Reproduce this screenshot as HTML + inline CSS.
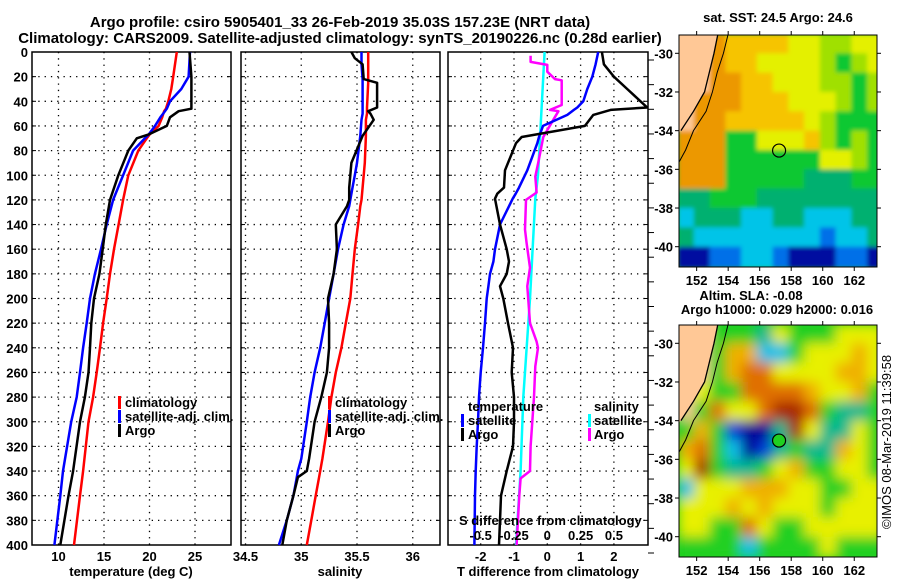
<!DOCTYPE html>
<html><head><meta charset="utf-8"><style>
body{margin:0;background:#fff;}
svg{display:block;font-family:"Liberation Sans",Arial,sans-serif;font-weight:bold;}
</style></head><body>
<svg id="s" width="900" height="580" viewBox="0 0 900 580" xmlns="http://www.w3.org/2000/svg">
<defs>
<filter id="bl1" x="-5%" y="-5%" width="110%" height="110%"><feGaussianBlur stdDeviation="2"/></filter>
<filter id="bl2" x="-5%" y="-5%" width="110%" height="110%"><feGaussianBlur stdDeviation="6"/></filter>
<clipPath id="cm1"><rect x="679" y="35" width="198" height="232"/></clipPath>
<clipPath id="cm2"><rect x="679" y="325" width="198" height="232"/></clipPath>
</defs>
<text x="340" y="27" font-size="15" text-anchor="middle">Argo profile: csiro 5905401_33 26-Feb-2019 35.03S 157.23E (NRT data)</text>
<text x="340" y="43" font-size="15" text-anchor="middle">Climatology: CARS2009. Satellite-adjusted climatology: synTS_20190226.nc (0.28d earlier)</text>
<g id="g"></g>
</svg>
<script>
// ---- data ----
const depths = [0,20,30,40,46,48,53,60,67,70,80,100,120,140,160,180,200,220,240,260,280,300,340,360,400];
const tClim  = [23.0,22.6,22.4,22.07,21.8,21.6,21.4,21.0,20.0,19.7,18.77,17.67,17.1,16.6,16.1,15.66,15.3,14.9,14.56,14.2,13.8,13.3,12.7,12.36,11.7];
const tSat   = [24.45,24.3,23.5,22.25,21.9,21.7,21.2,20.6,19.9,19.5,18.2,17.1,16.0,15.3,14.67,14.0,13.46,13.1,12.7,12.36,12.0,11.4,10.5,10.2,9.55];
const tArgo  = [24.4,24.6,24.6,24.6,24.6,23.2,22.25,21.9,19.87,18.6,17.67,16.57,15.66,15.2,14.86,14.5,13.9,13.6,13.46,13.3,12.9,12.36,11.6,11.1,10.2];
const sDepths = [0,5,10,22,25,45,48,50,55,68,90,100,110,120,125,140,160,180,200,220,240,260,280,300,330,340,345,360,380,400];
const sClim = [35.6,35.6,35.6,35.6,35.6,35.59,35.59,35.59,35.58,35.58,35.57,35.56,35.55,35.54,35.53,35.51,35.48,35.46,35.44,35.40,35.36,35.31,35.27,35.24,35.19,35.17,35.16,35.13,35.09,35.05];
const sSat  = [35.54,35.54,35.54,35.55,35.55,35.55,35.55,35.55,35.54,35.53,35.50,35.48,35.46,35.44,35.43,35.38,35.33,35.29,35.25,35.21,35.17,35.12,35.08,35.05,35.0,34.97,34.96,34.93,34.87,34.80];
const sArgo = [35.45,35.48,35.55,35.56,35.68,35.68,35.60,35.62,35.65,35.55,35.45,35.44,35.43,35.43,35.41,35.31,35.32,35.29,35.24,35.25,35.25,35.23,35.18,35.12,35.07,35.05,34.97,34.93,34.87,34.83];
const dDepths = [0,10,20,30,40,45,47,51,60,69,74,96,110,115,119,140,160,170,180,190,200,220,240,260,280,300,320,340,360,400];
const dtSat  = [1.53,1.45,1.35,1.2,1.08,0.9,0.8,0.6,-0.13,-0.25,-0.3,-0.6,-0.85,-0.95,-1.04,-1.42,-1.57,-1.62,-1.72,-1.77,-1.82,-1.87,-1.93,-2.0,-2.05,-2.08,-2.12,-2.15,-2.17,-2.19];
const dtArgo = [1.64,1.7,2.0,2.4,2.8,3.0,1.9,1.38,1.13,-0.77,-0.94,-1.27,-1.3,-1.5,-1.57,-1.42,-1.22,-1.15,-1.22,-1.42,-1.32,-1.18,-1.03,-1.07,-1.0,-1.0,-1.03,-1.22,-1.39,-1.45];
const mDepths = [3,8,10.5,16,22,23,43,47,48,55,69,90,101,114,120,144,155,175,190,220,235,240,255,280,320,340,346,360,400];
const dsArgo = [-0.125,-0.125,0,0,0.058,0.108,0.108,0.02,0.083,0.045,-0.03,-0.068,-0.09,-0.08,-0.16,-0.167,-0.155,-0.13,-0.15,-0.13,-0.08,-0.07,-0.09,-0.1,-0.125,-0.13,-0.2,-0.21,-0.23];
const cDepths = [0,100,119,200,280,340,400];
const dsSat = [-0.02,-0.07,-0.09,-0.13,-0.18,-0.2,-0.235];
const depthTicks = [0,20,40,60,80,100,120,140,160,180,200,220,240,260,280,300,320,340,360,380,400];
const tTicks = [10,15,20,25];
const sTicks = [34.5,35,35.5,36];
const dtTicks = [-2,-1,0,1,2];
const dsTicks = [-0.5,-0.25,0,0.25,0.5];
const dsTickLabels = ["-0.5","-0.25","0","0.25","0.5"];
const sstGrid = [
"NNOYYYYyyLLyy",
"NNOYYyyyyLGLy",
"NNOOYYyyyLLGL",
"NOOOYYYyyyLGL",
"NOOYYYYYyLGGG",
"OOOGGyyyYLGLG",
"OOOGGGGGGyyLG",
"OOOGGGGGTTTGG",
"TTGGGTTTTTTTT",
"CTTTCCTTCCCTT",
"TCCCCCCCCBCCT",
"DDBBCCBDDDBBD"];
const slaGrid = [
"NNGGGTyGGGyyy",
"NNGooCCGyyyoy",
"NNGoOOyyyyooy",
"NyGGOOOOoyyoG",
"NGOyyORROGTTG",
"GoGBDDTRyTTyG",
"oOGCDBTGTToyG",
"yRGTTGyoGGyyG",
"CyyyoooyyGGyy",
"yyyoyoyyyGyyy",
"yyGGOyGGyyyyy",
"GGGGCGGGGyGGG"];
// ---- drawing ----
const NS='http://www.w3.org/2000/svg';
const G=document.getElementById('g');
function mk(tag,attrs,parent){const e=document.createElementNS(NS,tag);for(const k in attrs)e.setAttribute(k,attrs[k]);(parent||G).appendChild(e);return e;}
const Y0=52, YS=(545-52)/400;
const yD=d=>Y0+d*YS;
const xT=t=>58.5+(t-10)*9.1;
const xS=s=>245.5+(s-34.5)*111.5;
const xDT=v=>547.3+v*33.3;
const xDS=v=>547.3+v*133.3;
function panel(name,x0,x1,ticks,xf,labels,showY){
  const g=mk('g',{});
  
  
  depthTicks.forEach(d=>{ if(d>0&&d<400){const l=mk('line',{x1:x0,x2:x1,y1:yD(d),y2:yD(d),stroke:'#000','stroke-width':1.3,'stroke-dasharray':'1.3 5'},g);}
    mk('line',{x1:x0,x2:x0+4,y1:yD(d),y2:yD(d),stroke:'#000'},g);mk('line',{x1:x1-4,x2:x1,y1:yD(d),y2:yD(d),stroke:'#000'},g);
    if(showY){const t=mk('text',{x:28,y:yD(d)+5,'font-size':13,'text-anchor':'end'},g);t.textContent=d;}
  });
  ticks.forEach((v,i)=>{const x=xf(v);
    const l=mk('line',{x1:x,x2:x,y1:Y0,y2:545,stroke:'#000','stroke-width':1.3,'stroke-dasharray':'1.3 5'},g);
    
    if(labels){const t=mk('text',{x:x,y:561,'font-size':13,'text-anchor':'middle'},g);t.textContent=labels[i];}
  });
  mk('rect',{x:x0,y:Y0,width:x1-x0,height:545-Y0,fill:'none',stroke:'#000','stroke-width':1.5},g);
  return g;
}
function line(name,xs,ds,xf,color,w){
  const p=xs.map((v,i)=>(i?'L':'M')+xf(v).toFixed(1)+','+yD(ds[i]).toFixed(1)).join('');
  const e=mk('path',{d:p,fill:'none',stroke:color,'stroke-width':w||2.5,'stroke-linejoin':'round'});
  
  
}
function txt(name,x,y,s,size,anchor){const t=mk('text',{x:x,y:y,'font-size':size||13,'text-anchor':anchor||'start'});t.textContent=s;return t;}
function legBar(name,x,y,c){const r=mk('rect',{x:x,y:y-11,width:3,height:13,fill:c});}
// panel 1
panel('temperature-panel',32,231,tTicks,xT,tTicks.map(String),true);
line('temperature-climatology-line',tClim,depths,xT,'#f00');
line('temperature-satellite-line',tSat,depths,xT,'#00f');
line('temperature-argo-line',tArgo,depths,xT,'#000');
txt('temperature-x-axis-title',131,576,'temperature (deg C)',13,'middle');
legBar('legend-swatch-climatology',118,407,'#f00');txt('legend-climatology',125,407,'climatology');
legBar('legend-swatch-satellite',118,421,'#00f');txt('legend-satellite',125,421,'satellite-adj. clim.');
legBar('legend-swatch-argo',118,435,'#000');txt('legend-argo',125,435,'Argo');
// panel 2
panel('salinity-panel',241,440,sTicks,xS,sTicks.map(String),false);
line('salinity-climatology-line',sClim,sDepths,xS,'#f00');
line('salinity-satellite-line',sSat,sDepths,xS,'#00f');
line('salinity-argo-line',sArgo,sDepths,xS,'#000');
txt('salinity-x-axis-title',340,576,'salinity',13,'middle');
legBar('legend2-swatch-climatology',328,407,'#f00');txt('legend2-climatology',335,407,'climatology');
legBar('legend2-swatch-satellite',328,421,'#00f');txt('legend2-satellite',335,421,'satellite-adj. clim.');
legBar('legend2-swatch-argo',328,435,'#000');txt('legend2-argo',335,435,'Argo');
// panel 3
panel('difference-panel',448,648,dtTicks,xDT,dtTicks.map(String),false);
depthTicks.forEach(d=>mk('line',{x1:648,x2:654,y1:yD(d)+8,y2:yD(d)+8,stroke:'#000'}));
line('salinity-diff-satellite-line',dsSat,cDepths,xDS,'#0ff');
line('salinity-diff-argo-line',dsArgo,mDepths,xDS,'#f0f');
line('temperature-diff-satellite-line',dtSat,dDepths,xDT,'#00f');
line('temperature-diff-argo-line',dtArgo,dDepths,xDT,'#000');
dsTicks.forEach((v,i)=>{txt('s-diff-tick-label',xDS(v),540,dsTickLabels[i],13,'middle');});
txt('s-diff-axis-title',459,525,'S difference from climatology');
txt('t-diff-x-axis-title',548,576,'T difference from climatology',13,'middle');
txt('legend3-temperature-heading',468,411,'temperature');
legBar('legend3-swatch-t-satellite',461,425,'#00f');txt('legend3-t-satellite',468,425,'satellite');
legBar('legend3-swatch-t-argo',461,439,'#000');txt('legend3-t-argo',468,439,'Argo');
txt('legend3-salinity-heading',594,411,'salinity');
legBar('legend3-swatch-s-satellite',588,425,'#0ff');txt('legend3-s-satellite',594,425,'satellite');
legBar('legend3-swatch-s-argo',588,439,'#f0f');txt('legend3-s-argo',594,439,'Argo');
// maps
const cols={N:'#ffc896',O:'#ec9800',Y:'#f6c400',y:'#e4f000',L:'#a0e000',G:'#10c830',T:'#00b070',C:'#00c4e8',B:'#0070e8',D:'#0010a0'};
const slaCols={N:'#ffc896',G:'#20d020',y:'#e8f000',o:'#f0b000',O:'#e07000',R:'#a82800',T:'#00b890',C:'#10c0e8',B:'#0040d8',D:'#000098'};
const mX=lon=>679+(lon-150.88)*15.76;
function drawMap(name,grid,palette,top,lat30,clip,filt,circleFill){
  const g=mk('g',{'clip-path':'url(#'+clip+')'});
  
  
  const mY=lat=>lat30+(-30-lat)*19.34;
  mk('rect',{x:679,y:top,width:198,height:232,fill:palette.G},g);
  const inner=mk('g',{filter:'url(#'+filt+')'},g);
  grid.forEach((row,j)=>{[...row].forEach((c,i)=>{
    const x=mX(150.88+i)-1,y=mY(-29.05-j)-1;
    mk('rect',{x:x,y:y,width:17.8,height:21.4,fill:palette[c]},inner);
  });});
  const coast=[[153.35,-29],[153.1,-30],[152.8,-31],[152.5,-32],[151.8,-33],[151.0,-34]];
  const shelf=[[154.0,-29],[153.7,-30],[153.3,-31],[153.0,-32],[152.6,-33],[151.8,-34],[151.3,-35],[150.9,-35.6]];
  const land='M679,'+(top-2)+' '+coast.map(p=>'L'+mX(p[0])+','+mY(p[1])).join(' ')+' L679,'+mY(-34.1)+'Z';
  mk('path',{d:land,fill:'#ffc896'},g);
  mk('path',{d:'M'+coast.map(p=>mX(p[0])+','+mY(p[1])).join(' L'),fill:'none',stroke:'#000','stroke-width':1.3},g);
  mk('path',{d:'M'+shelf.map(p=>mX(p[0])+','+mY(p[1])).join(' L'),fill:'none',stroke:'#000','stroke-width':1},g);
  const c=mk('circle',{cx:mX(157.23),cy:mY(-35.03),r:6.5,fill:circleFill,stroke:'#000','stroke-width':1.2},g);
  
  
  mk('rect',{x:679,y:top,width:198,height:232,fill:'none',stroke:'#000','stroke-width':1});
  [152,154,156,158,160,162].forEach(l=>{const x=mX(l);mk('line',{x1:x,x2:x,y1:top-4,y2:top,stroke:'#000'});mk('line',{x1:x,x2:x,y1:top+232,y2:top+236,stroke:'#000'});
    txt('longitude-tick-label',x,top+250,String(l),13,'middle');});
  [-30,-32,-34,-36,-38,-40].forEach(l=>{const y=mY(l);mk('line',{x1:675,x2:679,y1:y,y2:y,stroke:'#000'});mk('line',{x1:877,x2:881,y1:y,y2:y,stroke:'#000'});
    txt('latitude-tick-label',673,y+5,String(l),13,'end');});
}
drawMap('sst-map',sstGrid,cols,35,53.3,'cm1','bl1','none');
drawMap('sla-map',slaGrid,slaCols,325,343.3,'cm2','bl2','#20d020');
txt('sst-map-title',778,22,'sat. SST: 24.5 Argo: 24.6',13,'middle');
txt('sla-map-title',751,300,'Altim. SLA: -0.08',13,'middle');
txt('sla-map-subtitle',777,314,'Argo h1000: 0.029 h2000: 0.016',13,'middle');
const r=txt('imos-timestamp',0,0,'©IMOS 08-Mar-2019 11:39:58',13,'middle');
r.setAttribute('font-weight','normal');
r.setAttribute('transform','translate(891,442) rotate(-90)');
</script>
</body></html>
